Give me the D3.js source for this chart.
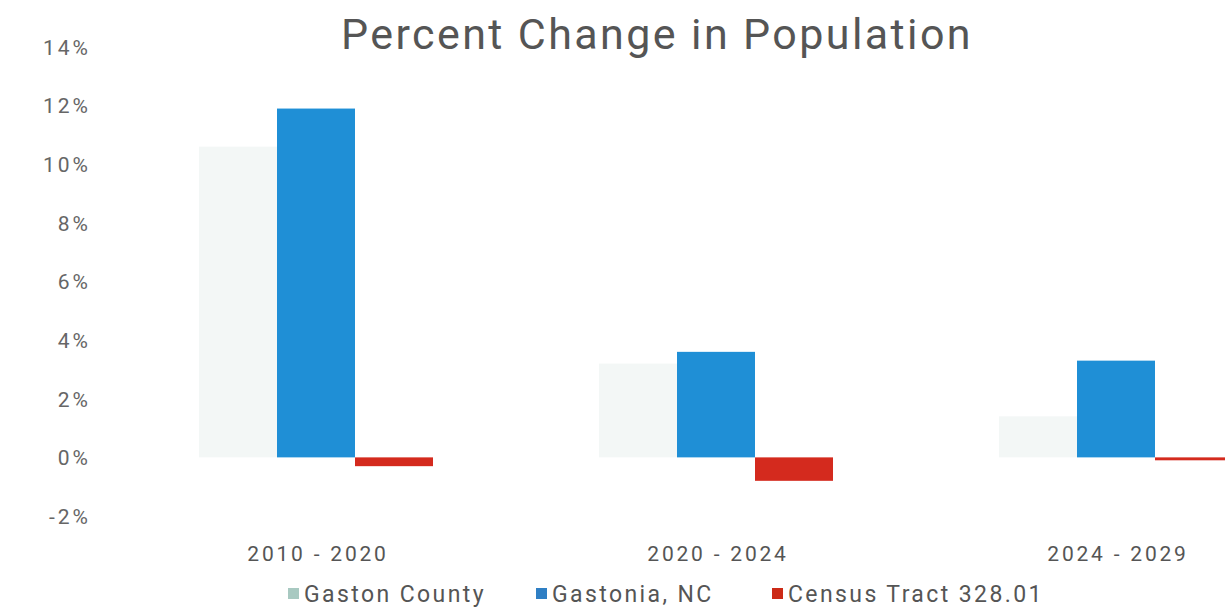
<!DOCTYPE html>
<html>
<head>
<meta charset="utf-8">
<script src="https://cdnjs.cloudflare.com/ajax/libs/d3/7.8.5/d3.min.js"></script>
<style>
  body { margin: 0; background: #fff; }
  svg text { font-family: "Roboto", "Liberation Sans", sans-serif; }
</style>
</head>
<body>
<div class="svg-container"></div>
<script>
// values, percent
var periods = ["2010 - 2020", "2020 - 2024", "2024 - 2029"];
var seriesNames = ["Gaston County", "Gastonia, NC", "Census Tract 328.01"];
var gastonCounty = [10.6, 3.2, 1.4];
var gastonia = [11.9, 3.6, 3.3];
var censusTract = [-0.3, -0.8, -0.1];
var yTicks = [-2, 0, 2, 4, 6, 8, 10, 12, 14];

var barColors = ["#f3f7f6", "#1f8fd6", "#d42a1e"];
var swatchColors = ["#a8c9c1", "#2f7fc4", "#cc2a17"];

var width = 1225, height = 609;
var svg = d3.select(".svg-container").append("svg")
  .attr("width", width)
  .attr("height", height);

var y = d3.scaleLinear().domain([-2, 14]).range([516, 47]);
var x = d3.scaleBand().domain(periods).range([116, 1316]).paddingInner(0.415).paddingOuter(0.2075);
var xs = d3.scaleBand().domain(seriesNames).range([0, x.bandwidth()]);

var rows = periods.map(function(p, i) {
  return {period: p, values: [gastonCounty[i], gastonia[i], censusTract[i]]};
});

// title
svg.append("text")
  .attr("x", 657).attr("y", 49)
  .attr("text-anchor", "middle")
  .attr("font-size", 43)
  .attr("letter-spacing", 2.4)
  .attr("fill", "#555")
  .text("Percent Change in Population");

// y axis labels only, no lines
var yAxis = d3.axisLeft(y).tickValues(yTicks).tickSize(0).tickPadding(0)
  .tickFormat(function(d){ return d + "%"; });
var gy = svg.append("g").attr("transform", "translate(91,0)").call(yAxis);
gy.select(".domain").remove();
gy.selectAll("text").attr("font-size", 21).attr("letter-spacing", 3)
  .attr("fill", "#666").attr("dy", "0.35em");

// bars
var groups = svg.append("g").selectAll("g").data(rows).enter().append("g")
  .attr("transform", function(d){ return "translate(" + x(d.period) + ",0)"; });

groups.selectAll("rect").data(function(d){
    return d.values.map(function(v, i){ return {name: seriesNames[i], value: v, i: i}; });
  }).enter().append("rect")
  .attr("x", function(d){ return xs(d.name); })
  .attr("width", xs.bandwidth())
  .attr("y", function(d){ return y(Math.max(0, d.value)); })
  .attr("height", function(d){ return Math.abs(y(d.value) - y(0)); })
  .attr("fill", function(d){ return barColors[d.i]; });

// x axis labels
var xAxis = d3.axisBottom(x).tickSize(0).tickPadding(0);
var gx = svg.append("g").attr("transform", "translate(2,554)").call(xAxis);
gx.select(".domain").remove();
gx.selectAll("text").attr("font-size", 21).attr("letter-spacing", 2.8)
  .attr("fill", "#555").attr("dy", "0.35em");

// legend
var legendX = [288, 536, 772];
var legend = svg.append("g").selectAll("g").data(seriesNames).enter().append("g")
  .attr("transform", function(d, i){ return "translate(" + legendX[i] + ",594)"; });
legend.append("rect")
  .attr("x", 0).attr("y", -6).attr("width", 11).attr("height", 11)
  .attr("fill", function(d, i){ return swatchColors[i]; });
legend.append("text")
  .attr("x", 16).attr("dy", "0.35em")
  .attr("font-size", 23)
  .attr("letter-spacing", 2.4)
  .attr("fill", "#555")
  .text(function(d){ return d; });
</script>
</body>
</html>
